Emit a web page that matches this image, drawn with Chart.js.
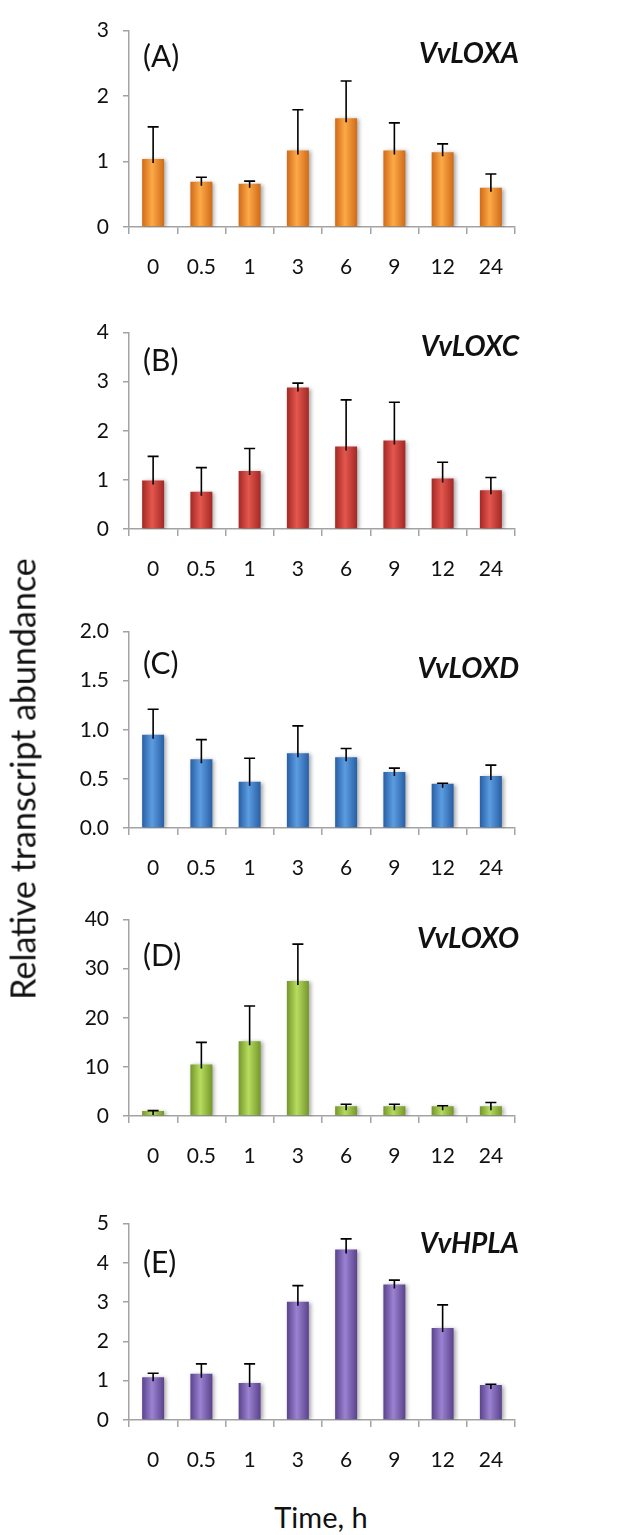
<!DOCTYPE html>
<html>
<head>
<meta charset="utf-8">
<script src="https://cdn.jsdelivr.net/npm/chart.js@4"></script>
<style>
  html, body { margin: 0; padding: 0; background: #fff; }
  body { width: 618px; height: 1535px; position: relative; overflow: hidden; font-family: Lato, "Open Sans", sans-serif; }
  .panel { position: absolute; left: 0; width: 618px; height: 285px; }
  #ytitle { position: absolute; left: 22px; top: 779px; transform: translate(-50%, -50%) rotate(-90deg);
            font-size: 34px; white-space: nowrap; color: #111; }
  #xtitle { position: absolute; left: 321px; top: 1516px; transform: translate(-50%, -50%);
            font-size: 29px; white-space: nowrap; color: #111; }
</style>
</head>
<body>
<div class="panel" style="top:4px"><canvas id="cA"></canvas></div>
<div class="panel" style="top:306px"><canvas id="cB"></canvas></div>
<div class="panel" style="top:605px"><canvas id="cC"></canvas></div>
<div class="panel" style="top:893px"><canvas id="cD"></canvas></div>
<div class="panel" style="top:1197px"><canvas id="cE"></canvas></div>
<div id="ytitle">Relative transcript abundance</div>
<div id="xtitle">Time, h</div>
<script>
// time points (h)
const timeLabels = ['0', '0.5', '1', '3', '6', '9', '12', '24'];

// mean relative transcript abundance and SD (upper error bar) per gene
const loxaMean = [1.04, 0.69, 0.66, 1.17, 1.66, 1.17, 1.14, 0.60];
const loxaSd   = [0.49, 0.07, 0.04, 0.62, 0.57, 0.42, 0.13, 0.21];

const loxcMean = [0.99, 0.76, 1.18, 2.88, 1.68, 1.80, 1.03, 0.79];
const loxcSd   = [0.49, 0.49, 0.46, 0.09, 0.95, 0.78, 0.33, 0.26];

const loxdMean = [0.95, 0.70, 0.47, 0.76, 0.72, 0.57, 0.45, 0.53];
const loxdSd   = [0.26, 0.20, 0.24, 0.28, 0.09, 0.04, 0.005, 0.11];

const loxoMean = [1.0, 10.5, 15.2, 27.5, 2.0, 2.0, 2.0, 2.0];
const loxoSd   = [0.1, 4.5, 7.2, 7.5, 0.4, 0.4, 0.1, 0.75];

const hplaMean = [1.09, 1.18, 0.94, 3.01, 4.34, 3.45, 2.34, 0.89];
const hplaSd   = [0.10, 0.25, 0.49, 0.41, 0.27, 0.11, 0.59, 0.02];

// y axis ranges
const yMax  = [3, 4, 2, 40, 5];
const yStep = [1, 1, 0.5, 10, 1];

const panelTags = ['(A)', '(B)', '(C)', '(D)', '(E)'];
const geneNames = ['VvLOXA', 'VvLOXC', 'VvLOXD', 'VvLOXO', 'VvHPLA'];

const panels = [
  { id: 'cA', mean: loxaMean, sd: loxaSd, colors: ['#d06a18', '#fcaa48'], tagY: 27, geneY: 23, dec: 0 },
  { id: 'cB', mean: loxcMean, sd: loxcSd, colors: ['#a32824', '#e4574f'], tagY: 29, geneY: 14, dec: 0 },
  { id: 'cC', mean: loxdMean, sd: loxdSd, colors: ['#285ea4', '#5c9de2'], tagY: 33, geneY: 37, dec: 1 },
  { id: 'cD', mean: loxoMean, sd: loxoSd, colors: ['#74962a', '#b8dc5e'], tagY: 37, geneY: 19, dec: 0 },
  { id: 'cE', mean: hplaMean, sd: hplaSd, colors: ['#5a428c', '#9c82d2'], tagY: 40, geneY: 20, dec: 0 }
];

const FONT = 'Lato, "Open Sans", sans-serif';
const BAR_FRAC = 0.455;
const axisGray = '#a3a3a3';

function barFill(colors) {
  return function (ctx) {
    const chart = ctx.chart;
    const xs = chart.scales.x;
    if (ctx.type !== 'data' || !xs || !chart.chartArea) return colors[1];
    const cx = xs.getPixelForValue(ctx.dataIndex);
    const w = xs.width / timeLabels.length * BAR_FRAC;
    const g = chart.ctx.createLinearGradient(cx - w / 2, 0, cx + w / 2, 0);
    g.addColorStop(0, colors[0]);
    g.addColorStop(0.45, colors[1]);
    g.addColorStop(1, colors[0]);
    return g;
  };
}

// soft shadow under bars
const shadowPlugin = {
  id: 'shadow',
  beforeDatasetsDraw(chart) {
    const c = chart.ctx;
    c.save();
    c.shadowColor = 'rgba(0,0,0,0.35)';
    c.shadowBlur = 4;
    c.shadowOffsetX = 2;
    c.shadowOffsetY = 1;
  },
  afterDatasetsDraw(chart) {
    chart.ctx.restore();
  }
};

// upper error bars + panel labels
function makeDecor(p, k) {
  return {
    id: 'decor' + k,
    afterDraw(chart) {
      const c = chart.ctx;
      const xs = chart.scales.x, ys = chart.scales.y;
      c.save();
      c.strokeStyle = '#000';
      c.lineWidth = 1.6;
      p.mean.forEach((m, i) => {
        const x = xs.getPixelForValue(i);
        const y0 = ys.getPixelForValue(m);
        const y1 = ys.getPixelForValue(m + p.sd[i]);
        c.beginPath();
        c.moveTo(x, y0 + 4);
        c.lineTo(x, y1);
        c.moveTo(x - 5.5, y1);
        c.lineTo(x + 5.5, y1);
        c.stroke();
      });
      const a = chart.chartArea;
      c.fillStyle = '#111';
      c.textBaseline = 'middle';
      c.font = '30px ' + FONT;
      c.textAlign = 'left';
      c.fillText(panelTags[k], a.left + 14, a.top + p.tagY);
      c.font = 'italic bold 28px ' + FONT;
      c.textAlign = 'right';
      c.fillText(geneNames[k], a.right + 4, a.top + p.geneY);
      c.restore();
    }
  };
}

panels.forEach((p, k) => {
  new Chart(document.getElementById(p.id), {
    type: 'bar',
    data: {
      labels: timeLabels,
      datasets: [{
        data: p.mean,
        backgroundColor: barFill(p.colors),
        borderWidth: 0,
        categoryPercentage: 1,
        barPercentage: BAR_FRAC
      }]
    },
    options: {
      responsive: true,
      maintainAspectRatio: false,
      animation: false,
      events: [],
      layout: { padding: { top: 15, right: 103, left: 0, bottom: 0 } },
      plugins: {
        legend: { display: false },
        tooltip: { enabled: false }
      },
      scales: {
        x: {
          grid: { offset: true, drawOnChartArea: false, drawTicks: true, tickLength: 7, color: axisGray, lineWidth: 1.5 },
          border: { color: axisGray, width: 1.5 },
          ticks: { color: '#111', font: { family: FONT, size: 21 }, padding: 21, maxRotation: 0 },
          afterFit: s => { s.height = 62; }
        },
        y: {
          min: 0,
          max: yMax[k],
          grid: { drawOnChartArea: false, drawTicks: true, tickLength: 6, color: axisGray, lineWidth: 1.5 },
          border: { color: axisGray, width: 1.5 },
          ticks: {
            stepSize: yStep[k],
            color: '#111',
            font: { family: FONT, size: 21 },
            padding: 14,
            callback: v => Number(v).toFixed(p.dec)
          },
          afterFit: s => { s.width = 129; }
        }
      }
    },
    plugins: [shadowPlugin, makeDecor(p, k)]
  });
});
</script>
</body>
</html>
